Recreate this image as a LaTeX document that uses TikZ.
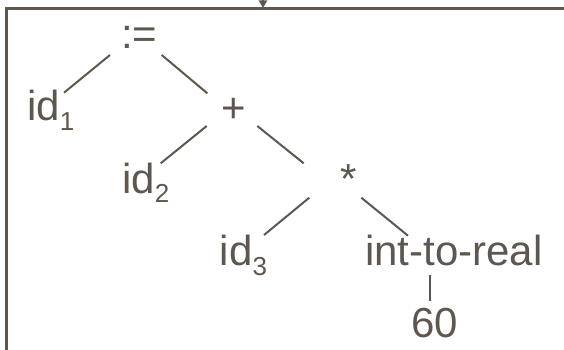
\documentclass[tikz,border=0pt]{standalone}
\usepackage{fontspec}
\setmainfont{Liberation Sans}
\usetikzlibrary{calc,arrows.meta}
\definecolor{ink}{RGB}{94,87,79}
\newcommand{\subsc}[1]{\raisebox{-9.5pt}{\fontsize{26}{30}\selectfont #1}}
\begin{document}
\begin{tikzpicture}[x=1pt,y=-1pt,
  lbl/.style={inner sep=0pt,outer sep=0pt,text=ink,font=\fontsize{42}{50}\selectfont},
  edge/.style={draw=ink,line width=2pt},
  frame/.style={draw=ink,line width=2.5pt}]
\useasboundingbox (0,0) rectangle (564,350);
% frame
\coordinate (fr) at (564,8.3);
\coordinate (fc) at (6.7,8.3);
\coordinate (fb) at (6.7,350);
\draw[frame] (fr) -- (fc) -- (fb);
% incoming arrow
\coordinate (ain) at (263,-12);
\coordinate (aout) at (263,8);
\draw[draw=ink,line width=2pt,-{Triangle[width=8pt,length=7.5pt]},fill=ink] (ain) -- (aout);
% nodes
\node[lbl,anchor=base west] (assign) at (121.2,49) {:=};
\node[lbl,anchor=base west] (id1) at (27.2,120.7) {id\subsc{1}};
\node[lbl,anchor=base] (plus) at (233.3,122) {+};
\node[lbl,anchor=base west] (id2) at (122.2,193.3) {id\subsc{2}};
\node[lbl,anchor=base] (star) at (348.3,193.3) {*};
\node[lbl,anchor=base west] (id3) at (219.9,265.7) {id\subsc{3}};
\node[lbl,anchor=base west] (itr) at (365.2,265.7) {int-to-real};
\node[lbl,anchor=base] (sixty) at (434.9,337.3) {60};
% connectors
\draw[edge] ($(assign.base west)+(-11.2,6)$) -- ($(id1.base west)+(36.8,-28)$);
\draw[edge] ($(assign.base west)+(40.5,6)$) -- ($(plus.base)+(-26,-28.7)$);
\draw[edge] ($(plus.base)+(-26.6,4)$) -- ($(id2.base west)+(38.5,-30)$);
\draw[edge] ($(plus.base)+(24,4)$) -- ($(star.base)+(-44.6,-30)$);
\draw[edge] ($(star.base)+(-39,4.4)$) -- ($(id3.base west)+(44.1,-30.7)$);
\draw[edge] ($(star.base)+(13,4.4)$) -- ($(itr.base west)+(42.8,-30)$);
\draw[edge] ($(itr.base west)+(64.5,9.3)$) -- ($(sixty.base)+(-5.2,-36.3)$);
\end{tikzpicture}
\end{document}
